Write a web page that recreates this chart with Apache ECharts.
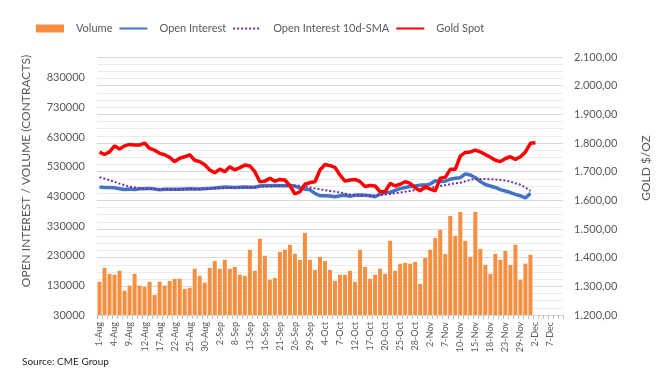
<!DOCTYPE html>
<html>
<head>
<meta charset="utf-8">
<script src="https://cdn.jsdelivr.net/npm/echarts@6/dist/echarts.min.js"></script>
<style>
html,body{margin:0;padding:0;background:#fff;}
#c{width:662px;height:388px;}
</style>
</head>
<body>
<div id="c"></div>
<script>
const categories = [
 '1-Aug','2-Aug','3-Aug','4-Aug','5-Aug','8-Aug','9-Aug','10-Aug','11-Aug','12-Aug',
 '15-Aug','16-Aug','17-Aug','18-Aug','19-Aug','22-Aug','23-Aug','24-Aug','25-Aug','26-Aug',
 '29-Aug','30-Aug','31-Aug',
 '1-Sep','2-Sep','6-Sep','7-Sep','8-Sep','9-Sep','12-Sep','13-Sep','14-Sep','15-Sep','16-Sep',
 '19-Sep','20-Sep','21-Sep','22-Sep','23-Sep','26-Sep','27-Sep','28-Sep','29-Sep','30-Sep',
 '3-Oct','4-Oct','5-Oct','6-Oct','7-Oct','10-Oct','11-Oct','12-Oct','13-Oct','14-Oct',
 '17-Oct','18-Oct','19-Oct','20-Oct','21-Oct','24-Oct','25-Oct','26-Oct','27-Oct','28-Oct','31-Oct',
 '1-Nov','2-Nov','3-Nov','4-Nov','7-Nov','8-Nov','9-Nov','10-Nov','11-Nov','14-Nov',
 '15-Nov','16-Nov','17-Nov','18-Nov','21-Nov','22-Nov','23-Nov','25-Nov','28-Nov','29-Nov','30-Nov',
 '1-Dec','2-Dec','5-Dec','6-Dec','7-Dec','8-Dec','9-Dec'
];

const volume = [
 142000,189000,169000,166000,179000,112000,129000,169000,129000,125000,
 142000,98000,142000,129000,145000,152000,152000,118000,122000,186000,
 162000,139000,189000,212000,186000,216000,186000,192000,166000,162000,
 250000,179000,287000,230000,149000,155000,243000,250000,267000,236000,
 216000,307000,216000,182000,226000,212000,182000,145000,166000,166000,
 179000,142000,250000,192000,152000,166000,186000,169000,280000,179000,
 203000,206000,203000,209000,135000,223000,250000,290000,317000,236000,
 364000,297000,378000,280000,226000,378000,253000,199000,169000,236000,
 216000,246000,199000,267000,149000,203000,233000
];

const openInterest = [
 462000,460000,460000,459000,456000,453000,455000,453000,456000,456000,
 457000,455000,452000,454000,454000,454000,454000,455000,456000,455000,
 455000,456000,457000,458000,460000,462000,461000,460000,461000,462000,
 461000,461000,465000,467000,466000,467000,466000,466000,467000,465000,
 458000,455000,452000,440000,432000,432000,431000,429000,432000,434000,
 430000,434000,435000,434000,432000,429000,438000,443000,444000,450000,
 456000,460000,463000,465000,468000,468000,472000,483000,480000,481000,
 488000,491000,493000,506000,502000,493000,480000,470000,465000,460000,
 453000,448000,443000,437000,432000,425000,440000
];

const oiSma10 = [
 495000,490000,485000,479000,473000,468000,463000,460000,457000,456000,
 455000,455000,454000,454000,454000,454000,454000,454000,455000,455000,
 455000,456000,456000,457000,457000,458000,459000,460000,460000,461000,
 461000,462000,463000,463000,464000,465000,465000,466000,466000,466000,
 466000,464000,460000,457000,454000,451000,448500,446000,443000,439500,
 436000,435000,434000,433000,432000,433000,434000,436000,438000,441000,
 443000,446000,448500,451000,454000,456500,459000,462000,465000,468000,
 471000,474000,476500,481000,485500,489000,489000,488500,488000,487000,
 485500,483000,480000,474400,469000,460000,448500
];

const goldSpot = [
 1768,1760,1769,1790,1779,1790,1795,1793,1793,1800,
 1781,1775,1764,1759,1750,1735,1747,1752,1759,1740,
 1735,1724,1706,1696,1709,1700,1717,1706,1714,1723,
 1720,1700,1665,1667,1677,1667,1673,1671,1651,1622,
 1630,1656,1662,1665,1706,1725,1721,1715,1688,1667,
 1671,1673,1665,1648,1652,1650,1630,1630,1659,1650,
 1656,1665,1659,1644,1633,1648,1639,1633,1677,1680,
 1708,1708,1754,1767,1769,1775,1769,1760,1750,1740,
 1735,1746,1752,1743,1752,1769,1799,1801
];

const leftTickLabels = [30000,130000,230000,330000,430000,530000,630000,730000,830000];

const FONT = 'Lato';
const TXT = '#595959';
const HIDE_SYMBOL = {color:'rgba(0,0,0,0)', borderWidth:0, opacity:0};

function fmtGold(v){
  const s = Math.round(v).toString();
  const th = s.length > 3 ? s.slice(0, s.length-3) + '.' + s.slice(s.length-3) : s;
  return th + ',00';
}

const chart = echarts.init(document.getElementById('c'), null, {renderer:'canvas'});
chart.setOption({
  animation:false,
  backgroundColor:'#ffffff',
  textStyle:{fontFamily:FONT},
  legend:{
    top:18, left:31,
    itemWidth:28, itemHeight:8, itemGap:6,
    textStyle:{color:TXT, fontSize:11, fontFamily:FONT, padding:[0,0,0,7]},
    data:[
      {name:'Volume', icon:'rect'},
      {name:'Open Interest', itemStyle:HIDE_SYMBOL},
      {name:'Open Interest 10d-SMA', itemStyle:HIDE_SYMBOL},
      {name:'Gold Spot', itemStyle:HIDE_SYMBOL}
    ]
  },
  grid:{left:97, right:99, top:57, bottom:73},
  xAxis:{
    type:'category',
    data:categories,
    boundaryGap:true,
    axisLine:{show:true, lineStyle:{color:'#d9d9d9'}},
    axisTick:{show:true, interval:0, length:4, lineStyle:{color:'#bfbfbf'}},
    axisLabel:{interval:2, rotate:90, fontSize:9, color:TXT, fontFamily:FONT, margin:7}
  },
  yAxis:[
    {
      type:'value', min:30000, max:900000, interval:10000,
      axisLine:{show:false}, axisTick:{show:false}, splitLine:{show:false},
      axisLabel:{
        fontSize:11, color:TXT, fontFamily:FONT, margin:12,
        formatter:function(v){ return leftTickLabels.indexOf(v) >= 0 ? String(v) : ''; }
      }
    },
    {
      type:'value', min:1200, max:2100, interval:100, position:'right',
      axisLine:{show:false}, axisTick:{show:false},
      splitLine:{show:true, lineStyle:{color:'#d9d9d9', width:1}},
      minorTick:{show:false, splitNumber:4},
      minorSplitLine:{show:true, lineStyle:{color:'#ebebeb', width:1}},
      axisLabel:{fontSize:11, color:TXT, fontFamily:FONT, margin:11, formatter:fmtGold}
    }
  ],
  graphic:[
    {type:'text', x:26, y:171, rotation:Math.PI/2,
     style:{text:'OPEN INTEREST / VOLUME (CONTRACTS)', fill:TXT, font:'12px Lato', textAlign:'center', textVerticalAlign:'middle'}},
    {type:'text', x:646, y:168, rotation:Math.PI/2,
     style:{text:'GOLD $/OZ', fill:TXT, font:'12px Lato', textAlign:'center', textVerticalAlign:'middle'}},
    {type:'text', left:22, top:357,
     style:{text:'Source: CME Group', fill:'#262626', font:'10px Lato'}}
  ],
  series:[
    {name:'Volume', type:'bar', yAxisIndex:0, data:volume, barCategoryGap:'20%',
     itemStyle:{color:'#F68F3F'}},
    {name:'Open Interest', type:'line', yAxisIndex:0, data:openInterest, symbol:'none',
     lineStyle:{color:'#4472C4', width:3.5}, itemStyle:{color:'#4472C4'}, z:3},
    {name:'Open Interest 10d-SMA', type:'line', yAxisIndex:0, data:oiSma10, symbol:'none',
     lineStyle:{color:'#7030A0', width:2, type:[2,2]}, itemStyle:{color:'#7030A0'}, z:4},
    {name:'Gold Spot', type:'line', yAxisIndex:1, data:goldSpot, symbol:'none',
     lineStyle:{color:'#FF0000', width:3.5}, itemStyle:{color:'#FF0000'}, z:5}
  ]
});
</script>
</body>
</html>
